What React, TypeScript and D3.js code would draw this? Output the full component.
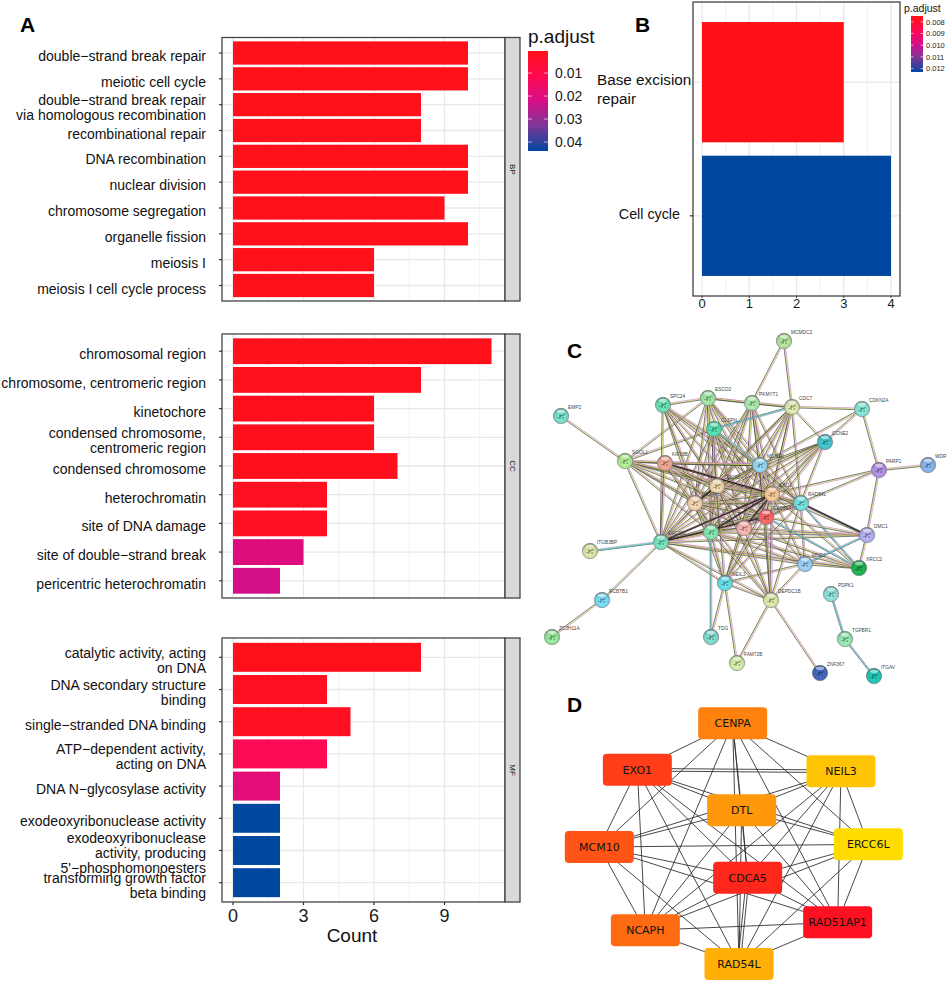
import React from 'react';
import * as d3 from 'd3';

const FONT = '"Liberation Sans", Arial, sans-serif';

// panel A
const bpTerms = ['double\u2212strand break repair', 'meiotic cell cycle', 'double\u2212strand break repair\nvia homologous recombination', 'recombinational repair', 'DNA recombination', 'nuclear division', 'chromosome segregation', 'organelle fission', 'meiosis I', 'meiosis I cell cycle process'];
const bpCounts = [10, 10, 8, 8, 10, 10, 9, 10, 6, 6];
const bpPadj = [0.0008, 0.0008, 0.0008, 0.0008, 0.0008, 0.0008, 0.0008, 0.0008, 0.0008, 0.0008];

const ccTerms = ['chromosomal region', 'chromosome, centromeric region', 'kinetochore', 'condensed chromosome,\ncentromeric region', 'condensed chromosome', 'heterochromatin', 'site of DNA damage', 'site of double\u2212strand break', 'pericentric heterochromatin'];
const ccCounts = [11, 8, 6, 6, 7, 4, 4, 3, 2];
const ccPadj = [0.0008, 0.0012, 0.0015, 0.0015, 0.0015, 0.002, 0.002, 0.02, 0.0225];

const mfTerms = ['catalytic activity, acting\non DNA', 'DNA secondary structure\nbinding', 'single\u2212stranded DNA binding', 'ATP\u2212dependent activity,\nacting on DNA', 'DNA N\u2212glycosylase activity', 'exodeoxyribonuclease activity', 'exodeoxyribonuclease\nactivity, producing\n5\'\u2212phosphomonoesters', 'transforming growth factor\nbeta binding'];
const mfCounts = [8, 4, 5, 4, 2, 2, 2, 2];
const mfPadj = [0.0008, 0.002, 0.002, 0.012, 0.019, 0.0439, 0.0439, 0.0439];

const countTicks = [0, 3, 6, 9];
const countMinor = [1.5, 4.5, 7.5, 10.5];
const padjTicks = [0.01, 0.02, 0.03, 0.04];

// panel B
const pathTerms = ['Base excision\nrepair', 'Cell cycle'];
const pathCounts = [3, 4];
const pathPadj = [0.0075, 0.0123];
const pathTicks = [0, 1, 2, 3, 4];
const pathMinor = [0.5, 1.5, 2.5, 3.5];
const pathPadjTicks = [0.008, 0.009, 0.01, 0.011, 0.012];

// panel C, layout units
const netNames = ['MCMDC2', 'EMP2', 'SPC24', 'ESCO2', 'PKMYT1', 'CDC7', 'CDKN2A', 'CLSPN', 'CCNE2', 'SGOL1', 'KIF18B', 'MCM10', 'PARP1', 'WDR', 'CDCA5', 'NCAPH', 'EXO1', 'RAD54L', 'RAD51AP1', 'DTL', 'CENPA', 'ERCC6L', 'ITGB3BP', 'DMC1', 'XRCC2', 'MND1', 'NEIL3', 'DEPDC1B', 'RCBTB1', 'ZC3H11A', 'TDG', 'FAM72B', 'ZNF367', 'PDPK1', 'TGFBR1', 'ITGAV'];
const netX = [244, 21, 123, 168, 212, 252, 322, 174, 285, 85, 125, 220, 339, 388, 177, 155, 232, 261, 226, 204, 171, 121, 50, 327, 319, 265, 185, 231, 62, 12, 171, 197, 280, 291, 305, 334];
const netY = [21, 96, 85, 78, 83, 87, 89, 109, 122, 141, 143, 145, 150, 145, 166, 183, 174, 183, 197, 208, 212, 222, 231, 215, 248, 244, 263, 280, 280, 317, 317, 343, 353, 274, 319, 356];
const netColors = ['#a5d38f', '#6fd0bd', '#64d0a8', '#94d69a', '#9ed8a0', '#ccd8a0', '#7dd5c5', '#4fcfa5', '#3fb8bd', '#a4dc8c', '#e09a88', '#8cc8e4', '#a687d8', '#7fa8dc', '#e0c8a0', '#e6c4a4', '#edb88c', '#6dd0d0', '#f06060', '#eba8a0', '#7dd4a4', '#6fd3b0', '#c8d59a', '#a8a4e4', '#1da84a', '#90c0e8', '#60cfd8', '#ccd89c', '#70cce4', '#8cd890', '#78ccc0', '#c4dc9c', '#4060b0', '#84d0c8', '#8cd8a8', '#20b8a8'];

const topGroup = ['SPC24', 'ESCO2', 'PKMYT1', 'CDC7', 'CLSPN', 'CCNE2', 'SGOL1', 'KIF18B'];
const coreGroup = ['MCM10', 'CDCA5', 'NCAPH', 'EXO1', 'RAD54L', 'RAD51AP1', 'DTL', 'CENPA', 'ERCC6L'];
const repairGroup = ['DMC1', 'XRCC2', 'MND1'];
const lowerGroup = ['NEIL3', 'DEPDC1B'];
const extraEdges = [
  ['MCMDC2', 'PKMYT1'], ['MCMDC2', 'CDC7'], ['EMP2', 'SGOL1'], ['SPC24', 'ESCO2'], ['ESCO2', 'PKMYT1'], ['ESCO2', 'CDC7'],
  ['PKMYT1', 'CDC7'], ['CDC7', 'CDKN2A'], ['CDC7', 'CLSPN'], ['CDC7', 'CCNE2'], ['CDKN2A', 'PARP1'], ['CDKN2A', 'CCNE2'],
  ['CDKN2A', 'MCM10'], ['SGOL1', 'KIF18B'], ['SGOL1', 'CLSPN'], ['SGOL1', 'ESCO2'], ['KIF18B', 'MCM10'], ['PARP1', 'WDR'],
  ['PARP1', 'DMC1'], ['PARP1', 'RAD54L'], ['PARP1', 'EXO1'], ['ITGB3BP', 'ERCC6L'], ['RCBTB1', 'ERCC6L'], ['RCBTB1', 'ZC3H11A'],
  ['NEIL3', 'TDG'], ['CENPA', 'TDG'], ['NEIL3', 'FAM72B'], ['DEPDC1B', 'FAM72B'], ['DEPDC1B', 'ZNF367'], ['PDPK1', 'TGFBR1'],
  ['TGFBR1', 'ITGAV'], ['NEIL3', 'DEPDC1B'], ['MND1', 'DEPDC1B'], ['MND1', 'NEIL3'], ['MND1', 'XRCC2'], ['MND1', 'DMC1'], ['DMC1', 'XRCC2'],
];
const cyanEdges = [['CDC7', 'CLSPN'], ['CLSPN', 'MCM10'], ['ITGB3BP', 'ERCC6L'], ['DMC1', 'MND1'], ['RAD54L', 'XRCC2'], ['PDPK1', 'TGFBR1'], ['TGFBR1', 'ITGAV'], ['CENPA', 'TDG'], ['RAD51AP1', 'XRCC2'], ['RAD54L', 'DMC1']];
const strongEdges = [['KIF18B', 'EXO1'], ['ERCC6L', 'RAD51AP1'], ['ERCC6L', 'EXO1'], ['CENPA', 'EXO1'], ['NCAPH', 'CDCA5'], ['DTL', 'EXO1'], ['RAD54L', 'DMC1']];
const strandColors = ['#c77fc9', '#cfe04a', '#3e4240'];

// panel D, layout units
const hubNames = ['CENPA', 'EXO1', 'NEIL3', 'DTL', 'MCM10', 'ERCC6L', 'CDCA5', 'NCAPH', 'RAD51AP1', 'RAD54L'];
const hubX = [548, 262, 873, 575, 148, 955, 593, 286, 863, 567];
const hubY = [100, 239, 244, 361, 471, 463, 563, 721, 697, 822];
const hubScores = [5, 2, 8, 6, 3, 9, 1, 4, 0, 7];
const doubledHubs = ['EXO1-NEIL3', 'CDCA5-RAD54L'];

const ramp = d3.scaleLinear<string>().domain([0, 0.25, 0.5, 0.75, 1]).range(['#ff1018', '#ff0a50', '#d60e88', '#7c3797', '#0047a0']);
const hubColor = d3.scaleLinear<string>().domain([0, 9]).range(['#ff1020', '#ffdc00']);

function lines(label: string) {
  return label.split('\n');
}

function Facet({ terms, counts, padj, top, bottom, strip, showAxis, colorT }: any) {
  const left = 222, right = 505, stripRight = 520;
  const x = d3.scaleLinear().domain([0, 11]).range([233, 491.5]);
  const y = d3.scaleBand<string>().domain(terms).range([top, bottom]).paddingInner(0.1).paddingOuter(0.15);
  return (
    <g>
      {countMinor.map(v => <line key={v} x1={x(v)} x2={x(v)} y1={top} y2={bottom} stroke="#efefef" strokeWidth={0.8} />)}
      {countTicks.map(v => <line key={v} x1={x(v)} x2={x(v)} y1={top} y2={bottom} stroke="#e8e8e8" strokeWidth={1.3} />)}
      {terms.map((t: string) => {
        const cy = y(t)! + y.bandwidth() / 2;
        return <line key={t} x1={left} x2={right} y1={cy} y2={cy} stroke="#e8e8e8" strokeWidth={1.3} />;
      })}
      {terms.map((t: string, i: number) => (
        <rect key={t} x={x(0)} y={y(t)} width={x(counts[i]) - x(0)} height={y.bandwidth()} fill={ramp(colorT(padj[i]))} />
      ))}
      <rect x={left} y={top} width={right - left} height={bottom - top} fill="none" stroke="#444" strokeWidth={1.3} />
      <rect x={right} y={top} width={stripRight - right} height={bottom - top} fill="#d9d9d9" stroke="#444" strokeWidth={1.3} />
      <text transform={`translate(${(right + stripRight) / 2 - 3},${(top + bottom) / 2}) rotate(90)`} textAnchor="middle" fontSize={8} fill="#1a1a1a">{strip}</text>
      {terms.map((t: string) => {
        const cy = y(t)! + y.bandwidth() / 2;
        const ls = lines(t);
        return (
          <g key={t}>
            <line x1={left - 3} x2={left} y1={cy} y2={cy} stroke="#333" strokeWidth={1.2} />
            <text textAnchor="end" fontSize={14} fill="#111">
              {ls.map((l, k) => <tspan key={k} x={206} y={cy + 8 + (k - (ls.length - 1) / 2) * 15}>{l}</tspan>)}
            </text>
          </g>
        );
      })}
      {showAxis && countTicks.map(v => (
        <g key={v}>
          <line x1={x(v)} x2={x(v)} y1={bottom} y2={bottom + 3} stroke="#333" strokeWidth={1.2} />
          <text x={x(v)} y={bottom + 20} textAnchor="middle" fontSize={18} fill="#1a1a1a">{v}</text>
        </g>
      ))}
    </g>
  );
}

function ColorBar({ id, x, y, width, height, ticks, scale, fontSize, format }: any) {
  const stops = d3.range(0, 1.01, 0.05);
  return (
    <g>
      <defs>
        <linearGradient id={id} x1="0" x2="0" y1="0" y2="1">
          {stops.map(s => <stop key={s} offset={s} stopColor={ramp(s)} />)}
        </linearGradient>
      </defs>
      <rect x={x} y={y} width={width} height={height} fill={`url(#${id})`} />
      {ticks.map((t: number) => (
        <g key={t}>
          <line x1={x} x2={x + width / 5} y1={scale(t)} y2={scale(t)} stroke="#fff" strokeWidth={0.6} />
          <line x1={x + width * 4 / 5} x2={x + width} y1={scale(t)} y2={scale(t)} stroke="#fff" strokeWidth={0.6} />
          <text x={x + width + (fontSize > 10 ? 7 : 3)} y={scale(t) + fontSize * 0.36} fontSize={fontSize} fill="#1a1a1a">{format(t)}</text>
        </g>
      ))}
    </g>
  );
}

function PanelA() {
  const colorT = d3.scaleLinear().domain([0.0004, 0.0439]).range([0, 1]).clamp(true);
  const legend = d3.scaleLinear().domain([0.0004, 0.0439]).range([51, 151]);
  return (
    <g>
      <Facet terms={bpTerms} counts={bpCounts} padj={bpPadj} top={37.5} bottom={301} strip="BP" colorT={colorT} />
      <Facet terms={ccTerms} counts={ccCounts} padj={ccPadj} top={334} bottom={598} strip="CC" colorT={colorT} />
      <Facet terms={mfTerms} counts={mfCounts} padj={mfPadj} top={638} bottom={902} strip="MF" showAxis colorT={colorT} />
      <text x={352} y={942} textAnchor="middle" fontSize={19} fill="#111">Count</text>
      <text x={528} y={43} fontSize={19} fill="#111">p.adjust</text>
      <ColorBar id="legendA" x={528} y={51} width={20} height={100} ticks={padjTicks} scale={legend} fontSize={14} format={(v: number) => v.toFixed(2)} />
    </g>
  );
}

function PanelB() {
  const left = 693, right = 900, top = 2, bottom = 296;
  const x = d3.scaleLinear().domain([0, 4]).range([702, 891]);
  const y = d3.scaleBand<string>().domain(pathTerms).range([top, bottom]).paddingInner(0.1).paddingOuter(0.15);
  const colorT = d3.scaleLinear().domain([0.0075, 0.0123]).range([0, 1]);
  const legend = d3.scaleLinear().domain([0.0075, 0.0123]).range([16, 72]);
  return (
    <g>
      {pathMinor.map(v => <line key={v} x1={x(v)} x2={x(v)} y1={top} y2={bottom} stroke="#efefef" strokeWidth={0.8} />)}
      {pathTicks.map(v => <line key={v} x1={x(v)} x2={x(v)} y1={top} y2={bottom} stroke="#e8e8e8" strokeWidth={1.3} />)}
      {pathTerms.map(t => {
        const cy = y(t)! + y.bandwidth() / 2;
        return <line key={t} x1={left} x2={right} y1={cy} y2={cy} stroke="#e8e8e8" strokeWidth={1.3} />;
      })}
      {pathTerms.map((t, i) => (
        <rect key={t} x={x(0)} y={y(t)} width={x(pathCounts[i]) - x(0)} height={y.bandwidth()} fill={ramp(colorT(pathPadj[i]))} />
      ))}
      <rect x={left} y={top} width={right - left} height={bottom - top} fill="none" stroke="#444" strokeWidth={1.3} />
      <text fontSize={15.3} fill="#111">
        <tspan x={597} y={85}>{lines(pathTerms[0])[0]}</tspan>
        <tspan x={597} y={104}>{lines(pathTerms[0])[1]}</tspan>
      </text>
      <text x={680} y={219} fontSize={14.3} fill="#111" textAnchor="end">{pathTerms[1]}</text>
      <line x1={690} x2={693} y1={y(pathTerms[1])! + y.bandwidth() / 2} y2={y(pathTerms[1])! + y.bandwidth() / 2} stroke="#333" strokeWidth={1.2} />
      {pathTicks.map(v => (
        <g key={v}>
          <line x1={x(v)} x2={x(v)} y1={bottom} y2={bottom + 2} stroke="#333" />
          <text x={x(v)} y={307.5} textAnchor="middle" fontSize={13} fill="#1a1a1a">{v}</text>
        </g>
      ))}
      <text x={904} y={12} fontSize={10.5} fill="#111">p.adjust</text>
      <ColorBar id="legendB" x={911} y={16} width={12} height={56} ticks={pathPadjTicks} scale={legend} fontSize={7.5} format={(v: number) => v.toFixed(3)} />
    </g>
  );
}

function PanelC() {
  const sx = d3.scaleLinear().domain([0, 408]).range([540, 948]);
  const sy = d3.scaleLinear().domain([0, 200]).range([320, 520]);
  const at = (n: string) => netNames.indexOf(n);
  const edges: string[][] = [...extraEdges];
  topGroup.forEach(a => coreGroup.forEach(b => edges.push([a, b])));
  d3.range(coreGroup.length).forEach(i => d3.range(i + 1, coreGroup.length).forEach(j => edges.push([coreGroup[i], coreGroup[j]])));
  coreGroup.slice(3).forEach(a => repairGroup.forEach(b => edges.push([a, b])));
  coreGroup.forEach(a => lowerGroup.forEach(b => edges.push([a, b])));
  const ends = ([a, b]: string[]) => ({ x1: sx(netX[at(a)]), y1: sy(netY[at(a)]), x2: sx(netX[at(b)]), y2: sy(netY[at(b)]) });
  return (
    <g>
      <defs>
        {netNames.map((n, i) => (
          <radialGradient key={n} id={`ball${i}`} cx="0.5" cy="0.62" r="0.6">
            <stop offset="0" stopColor={d3.color(netColors[i])!.brighter(0.4).toString()} />
            <stop offset="0.78" stopColor={netColors[i]} />
            <stop offset="1" stopColor={d3.color(netColors[i])!.darker(1.2).toString()} />
          </radialGradient>
        ))}
      </defs>
      {edges.map((e, k) => {
        const { x1, y1, x2, y2 } = ends(e);
        const len = Math.hypot(x2 - x1, y2 - y1) || 1;
        const nx = -(y2 - y1) / len, ny = (x2 - x1) / len;
        return strandColors.map((c, s) => (
          <line key={`${k}-${s}`} x1={x1 + nx * (s - 1) * 0.8} y1={y1 + ny * (s - 1) * 0.8} x2={x2 + nx * (s - 1) * 0.8} y2={y2 + ny * (s - 1) * 0.8} stroke={c} strokeWidth={0.75} strokeOpacity={0.9} />
        ));
      })}
      {cyanEdges.map((e, k) => <line key={k} {...ends(e)} stroke="#45c8dc" strokeWidth={0.9} />)}
      {strongEdges.map((e, k) => <line key={k} {...ends(e)} stroke="#2a1c24" strokeWidth={1.1} />)}
      {netNames.map((n, i) => {
        const cx = sx(netX[i]), cy = sy(netY[i]);
        return (
          <g key={n}>
            <circle cx={cx} cy={cy} r={7.7} fill={`url(#ball${i})`} stroke="#777" strokeWidth={0.6} />
            <ellipse cx={cx} cy={cy - 4.8} rx={4.2} ry={1.8} fill="#fff" fillOpacity={0.5} />
            <path d={`M${cx - 3.5},${cy + 1.5}L${cx + 3.5},${cy - 1.5}M${cx - 1},${cy - 1.5}L${cx - 1},${cy + 3}M${cx + 1},${cy + 2}L${cx + 3},${cy + 2}`} stroke={d3.color(netColors[i])!.darker(1.4).toString()} strokeWidth={1.1} fill="none" />
            <text x={cx + 7} y={cy - 7} fontSize={4.8} fill="#444">{n}</text>
          </g>
        );
      })}
    </g>
  );
}

function PanelD() {
  const sx = d3.scaleLinear().domain([0, 1080]).range([550, 910]);
  const sy = d3.scaleLinear().domain([0, 876]).range([690, 982]);
  const edges: any[] = [];
  hubNames.forEach((a, i) => hubNames.slice(i + 1).forEach((b, k) => edges.push({ a: i, b: i + 1 + k, key: `${a}-${b}`, alt: `${b}-${a}` })));
  return (
    <g>
      {edges.map(e => {
        const x1 = sx(hubX[e.a]), y1 = sy(hubY[e.a]), x2 = sx(hubX[e.b]), y2 = sy(hubY[e.b]);
        const len = Math.hypot(x2 - x1, y2 - y1);
        const nx = -(y2 - y1) / len, ny = (x2 - x1) / len;
        const offs = doubledHubs.includes(e.key) || doubledHubs.includes(e.alt) ? [-1.3, 1.3] : [0];
        return offs.map(o => <line key={e.key + o} x1={x1 + nx * o} y1={y1 + ny * o} x2={x2 + nx * o} y2={y2 + ny * o} stroke="#333" strokeWidth={0.9} />);
      })}
      {hubNames.map((n, i) => (
        <g key={n}>
          <rect x={sx(hubX[i]) - 34.5} y={sy(hubY[i]) - 16} width={69} height={32} rx={4} fill={hubColor(hubScores[i])} />
          <text x={sx(hubX[i])} y={sy(hubY[i]) + 4} textAnchor="middle" fontSize={11} fontFamily='"DejaVu Sans", sans-serif' fill="#111">{n}</text>
        </g>
      ))}
    </g>
  );
}

export default function App() {
  return (
    <svg width={948} height={982} style={{ position: 'absolute', left: 0, top: 0, background: '#fff' }} fontFamily={FONT}>
      <PanelA />
      <PanelB />
      <PanelC />
      <PanelD />
      <g fontSize={21} fontWeight="bold" fill="#000">
        <text x={20} y={32}>A</text>
        <text x={635} y={32}>B</text>
        <text x={567} y={358}>C</text>
        <text x={567} y={712}>D</text>
      </g>
    </svg>
  );
}
